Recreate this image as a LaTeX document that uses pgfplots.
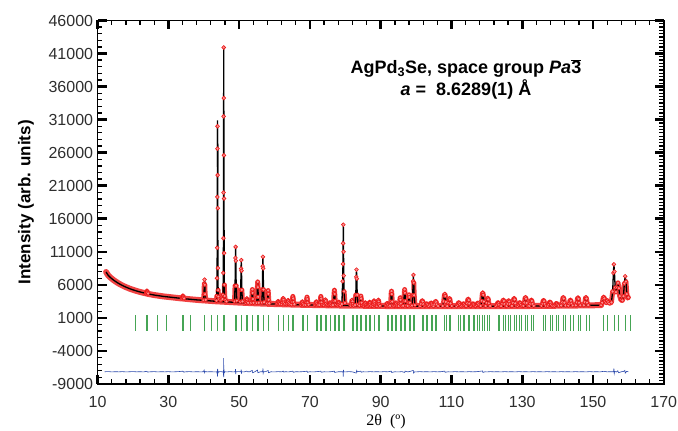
\documentclass[border=0pt]{standalone}
\usepackage{pgfplots}
\pgfplotsset{compat=1.18}
\usepackage{pgfplotstable}
\usepackage{fontspec}
\setmainfont{Liberation Sans}
\newfontfamily\serifA{Liberation Serif}
\definecolor{obsred}{RGB}{238,20,20}
\definecolor{tickgreen}{RGB}{70,165,85}
\definecolor{diffblue}{RGB}{40,70,170}

% background (observed band + calculated line)
\pgfplotstableread[row sep=\\]{x y\\
12.4 7950\\ 12.7 7680\\ 13.0 7440\\ 13.5 7170\\ 14.0 6940\\ 14.5 6730\\ 15.0 6540\\ 15.5 6360\\ 16.0 6200\\ 16.5 6050\\
17.0 5910\\ 17.5 5780\\ 18.0 5660\\ 18.5 5550\\ 19.0 5440\\ 19.5 5340\\ 20.0 5250\\ 20.5 5160\\ 21.0 5080\\ 21.5 5000\\
22.0 4930\\ 22.5 4860\\ 23.0 4790\\ 23.5 4730\\ 24.0 4670\\ 24.5 4610\\ 25.0 4560\\ 25.5 4510\\ 26.0 4460\\ 26.5 4420\\
27.0 4380\\ 27.5 4340\\ 28.0 4300\\ 28.5 4260\\ 29.0 4230\\ 29.5 4200\\ 30.0 4170\\ 30.5 4140\\ 31.0 4110\\ 31.5 4080\\
32.0 4050\\ 32.5 4020\\ 33.0 3990\\ 33.5 3960\\ 34.0 3940\\ 34.5 3910\\ 35.0 3880\\ 35.5 3855\\ 36.0 3830\\ 36.5 3805\\
37.0 3780\\ 37.5 3755\\ 38.0 3730\\ 38.5 3710\\ 39.0 3690\\ 39.5 3670\\ 40.0 3650\\ 40.5 3630\\ 41.0 3610\\ 41.5 3590\\
42.0 3570\\ 42.5 3550\\ 43.0 3530\\ 43.5 3515\\ 44.0 3500\\ 44.5 3485\\ 45.0 3470\\ 45.5 3455\\ 46.0 3440\\ 46.5 3425\\
47.0 3410\\ 47.5 3395\\ 48.0 3380\\ 48.5 3365\\ 49.0 3350\\ 49.5 3335\\ 50.0 3320\\ 50.5 3310\\ 51.0 3295\\ 51.5 3285\\
52.0 3270\\ 52.5 3260\\ 53.0 3245\\ 53.5 3235\\ 54.0 3220\\ 54.5 3210\\ 55.0 3200\\ 55.5 3190\\ 56.0 3180\\ 56.5 3170\\
57.0 3160\\ 57.5 3150\\ 58.0 3140\\ 58.5 3130\\ 59.0 3120\\ 59.5 3110\\ 60.0 3100\\ 60.5 3090\\ 61.0 3085\\ 61.5 3075\\
62.0 3070\\ 62.5 3060\\ 63.0 3050\\ 63.5 3045\\ 64.0 3035\\ 64.5 3030\\ 65.0 3020\\ 65.5 3015\\ 66.0 3010\\ 66.5 3000\\
67.0 2995\\ 67.5 2990\\ 68.0 2985\\ 68.5 2975\\ 69.0 2970\\ 69.5 2965\\ 70.0 2960\\ 70.5 2955\\ 71.0 2950\\ 71.5 2945\\
72.0 2940\\ 72.5 2935\\ 73.0 2930\\ 73.5 2925\\ 74.0 2920\\ 74.5 2915\\ 75.0 2910\\ 75.5 2905\\ 76.0 2900\\ 76.5 2895\\
77.0 2890\\ 77.5 2885\\ 78.0 2880\\ 78.5 2875\\ 79.0 2875\\ 79.5 2870\\ 80.0 2870\\ 80.5 2865\\ 81.0 2860\\ 81.5 2860\\
82.0 2855\\ 82.5 2850\\ 83.0 2850\\ 83.5 2845\\ 84.0 2845\\ 84.5 2840\\ 85.0 2840\\ 85.5 2835\\ 86.0 2830\\ 86.5 2830\\
87.0 2825\\ 87.5 2820\\ 88.0 2820\\ 88.5 2815\\ 89.0 2815\\ 89.5 2810\\ 90.0 2810\\ 90.5 2805\\ 91.0 2805\\ 91.5 2800\\
92.0 2800\\ 92.5 2800\\ 93.0 2795\\ 93.5 2795\\ 94.0 2795\\ 94.5 2790\\ 95.0 2790\\ 95.5 2790\\ 96.0 2785\\ 96.5 2785\\
97.0 2785\\ 97.5 2780\\ 98.0 2780\\ 98.5 2780\\ 99.0 2780\\ 99.5 2780\\ 100.0 2780\\ 100.5 2780\\ 101.0 2775\\ 101.5 2775\\
102.0 2775\\ 102.5 2775\\ 103.0 2775\\ 103.5 2770\\ 104.0 2770\\ 104.5 2770\\ 105.0 2770\\ 105.5 2770\\ 106.0 2770\\ 106.5 2770\\
107.0 2765\\ 107.5 2765\\ 108.0 2765\\ 108.5 2765\\ 109.0 2765\\ 109.5 2765\\ 110.0 2765\\ 110.5 2765\\ 111.0 2765\\ 111.5 2765\\
112.0 2765\\ 112.5 2765\\ 113.0 2765\\ 113.5 2765\\ 114.0 2765\\ 114.5 2765\\ 115.0 2765\\ 115.5 2765\\ 116.0 2765\\ 116.5 2765\\
117.0 2765\\ 117.5 2765\\ 118.0 2770\\ 118.5 2770\\ 119.0 2770\\ 119.5 2770\\ 120.0 2770\\ 120.5 2770\\ 121.0 2770\\ 121.5 2775\\
122.0 2775\\ 122.5 2775\\ 123.0 2775\\ 123.5 2775\\ 124.0 2780\\ 124.5 2780\\ 125.0 2780\\ 125.5 2780\\ 126.0 2780\\ 126.5 2785\\
127.0 2785\\ 127.5 2785\\ 128.0 2790\\ 128.5 2790\\ 129.0 2790\\ 129.5 2790\\ 130.0 2795\\ 130.5 2795\\ 131.0 2800\\ 131.5 2800\\
132.0 2800\\ 132.5 2805\\ 133.0 2805\\ 133.5 2810\\ 134.0 2810\\ 134.5 2815\\ 135.0 2815\\ 135.5 2820\\ 136.0 2820\\ 136.5 2825\\
137.0 2825\\ 137.5 2830\\ 138.0 2830\\ 138.5 2835\\ 139.0 2835\\ 139.5 2840\\ 140.0 2840\\ 140.5 2845\\ 141.0 2850\\ 141.5 2850\\
142.0 2855\\ 142.5 2860\\ 143.0 2860\\ 143.5 2865\\ 144.0 2865\\ 144.5 2870\\ 145.0 2870\\ 145.5 2875\\ 146.0 2880\\ 146.5 2885\\
147.0 2890\\ 147.5 2895\\ 148.0 2900\\ 148.5 2900\\ 149.0 2905\\ 149.5 2910\\ 150.0 2910\\ 150.5 2915\\ 151.0 2920\\ 151.5 2925\\
152.0 2930\\ 152.3 2935\\
}\bgtab

% Bragg peaks (observed points = calculated line), segments separated by nan
\pgfplotstableread[row sep=\\]{x y\\
23.63 4690\\ 23.78 4800\\ 23.87 5000\\ 23.93 5080\\ 24.00 4980\\ 24.09 4800\\ 24.26 4690\\ nan nan\\
33.80 3945\\ 33.95 4055\\ 34.04 4255\\ 34.10 4335\\ 34.17 4235\\ 34.26 4055\\ 34.43 3945\\ nan nan\\
39.92 3700\\ 40.07 4590\\ 40.16 6170\\ 40.22 6800\\ 40.29 6010\\ 40.38 4590\\ 40.55 3735\\ nan nan\\
43.60 3600\\ 43.70 4300\\ 43.75 7000\\ 43.80 11600\\ 43.84 19300\\ 43.87 26600\\ 43.90 30000\\ 43.93 22600\\ 43.96 17600\\ 44.00 8530\\ 44.06 5200\\ 44.15 4200\\ 44.30 3800\\ 44.70 3650\\ 45.00 3700\\ 45.30 3850\\ 45.45 4500\\ 45.52 7800\\ 45.56 13060\\ 45.59 19960\\ 45.61 31490\\ 45.64 41920\\ 45.67 34260\\ 45.70 25600\\ 45.73 19060\\ 45.76 10800\\ 45.82 6000\\ 45.90 4300\\ 46.10 3700\\ 46.40 3500\\ nan nan\\
48.70 3520\\ 48.85 5870\\ 48.94 10070\\ 49.00 11750\\ 49.07 9650\\ 49.16 5870\\ 49.33 3600\\ nan nan\\
50.30 3440\\ 50.45 5240\\ 50.54 8460\\ 50.60 9750\\ 50.67 8140\\ 50.76 5240\\ 50.93 3500\\ nan nan\\
51.88 3280\\ 52.03 3470\\ 52.12 3790\\ 52.18 3920\\ 52.25 3760\\ 52.34 3470\\ 52.51 3290\\ nan nan\\
53.43 3270\\ 53.58 3850\\ 53.67 4890\\ 53.73 5300\\ 53.80 4780\\ 53.89 3850\\ 54.06 3290\\ nan nan\\
54.94 3270\\ 55.09 4180\\ 55.18 5800\\ 55.24 6450\\ 55.31 5640\\ 55.40 4180\\ 55.57 3300\\ nan nan\\
56.42 3310\\ 56.57 5290\\ 56.66 8830\\ 56.72 10250\\ 56.79 8480\\ 56.88 5290\\ 57.05 3380\\ nan nan\\
57.89 3180\\ 58.04 3740\\ 58.13 4740\\ 58.19 5140\\ 58.26 4640\\ 58.35 3740\\ 58.52 3200\\ nan nan\\
60.64 3090\\ 60.84 3210\\ 60.96 3420\\ 61.04 3505\\ 61.13 3400\\ 61.25 3210\\ 61.48 3100\\ nan nan\\
62.04 3080\\ 62.24 3330\\ 62.36 3780\\ 62.44 3960\\ 62.53 3735\\ 62.65 3330\\ 62.88 3090\\ nan nan\\
63.42 3050\\ 63.62 3230\\ 63.74 3540\\ 63.82 3660\\ 63.91 3505\\ 64.03 3230\\ 64.26 3060\\ nan nan\\
64.78 3045\\ 64.98 3390\\ 65.10 4000\\ 65.18 4250\\ 65.27 3940\\ 65.39 3390\\ 65.62 3060\\ nan nan\\
67.46 2995\\ 67.66 3125\\ 67.78 3355\\ 67.86 3445\\ 67.95 3330\\ 68.07 3125\\ 68.30 3000\\ nan nan\\
68.78 2995\\ 68.98 3325\\ 69.10 3915\\ 69.18 4150\\ 69.27 3855\\ 69.39 3325\\ 69.62 3005\\ nan nan\\
71.40 2955\\ 71.60 3095\\ 71.72 3345\\ 71.80 3445\\ 71.89 3320\\ 72.01 3095\\ 72.24 2960\\ nan nan\\
72.69 2955\\ 72.89 3325\\ 73.01 3985\\ 73.09 4250\\ 73.18 3920\\ 73.30 3325\\ 73.53 2970\\ nan nan\\
73.98 2930\\ 74.18 3165\\ 74.30 3580\\ 74.38 3745\\ 74.47 3540\\ 74.59 3165\\ 74.82 2940\\ nan nan\\
75.25 2915\\ 75.45 3025\\ 75.57 3225\\ 75.65 3305\\ 75.74 3205\\ 75.86 3025\\ 76.09 2915\\ nan nan\\
76.52 2935\\ 76.72 3585\\ 76.84 4740\\ 76.92 5200\\ 77.01 4620\\ 77.13 3585\\ 77.36 2960\\ nan nan\\
77.78 2890\\ 77.98 3035\\ 78.10 3295\\ 78.18 3400\\ 78.27 3270\\ 78.39 3035\\ 78.62 2895\\ nan nan\\
79.04 3110\\ 79.24 6540\\ 79.34 9160\\ 79.38 12280\\ 79.44 15100\\ 79.50 11000\\ 79.56 7400\\ 79.65 5000\\ 79.88 3240\\ nan nan\\
81.53 2870\\ 81.73 3110\\ 81.85 3535\\ 81.93 3705\\ 82.02 3495\\ 82.14 3110\\ 82.37 2880\\ nan nan\\
82.76 2960\\ 82.96 4485\\ 83.08 7210\\ 83.16 8300\\ 83.25 6940\\ 83.37 4485\\ 83.60 3015\\ nan nan\\
84.00 2870\\ 84.20 3280\\ 84.32 4010\\ 84.40 4300\\ 84.49 3935\\ 84.61 3280\\ 84.84 2885\\ nan nan\\
85.24 2845\\ 85.44 2975\\ 85.56 3205\\ 85.64 3295\\ 85.73 3180\\ 85.85 2975\\ 86.08 2850\\ nan nan\\
86.48 2835\\ 86.68 2995\\ 86.80 3275\\ 86.88 3385\\ 86.97 3245\\ 87.09 2995\\ 87.32 2840\\ nan nan\\
87.72 2835\\ 87.92 3055\\ 88.04 3445\\ 88.12 3600\\ 88.21 3405\\ 88.33 3055\\ 88.56 2845\\ nan nan\\
88.95 2830\\ 89.15 3080\\ 89.27 3520\\ 89.35 3700\\ 89.44 3480\\ 89.56 3080\\ 89.79 2835\\ nan nan\\
91.41 2810\\ 91.61 2920\\ 91.73 3120\\ 91.81 3200\\ 91.90 3100\\ 92.02 2920\\ 92.25 2810\\ nan nan\\
92.65 2840\\ 92.85 3470\\ 92.97 4710\\ 93.05 5050\\ 93.14 4600\\ 93.26 3470\\ 93.49 2860\\ nan nan\\
93.89 2800\\ 94.09 2940\\ 94.21 3190\\ 94.29 3290\\ 94.38 3165\\ 94.50 2940\\ 94.73 2805\\ nan nan\\
95.12 2815\\ 95.32 3170\\ 95.44 3800\\ 95.52 4050\\ 95.61 3735\\ 95.73 3170\\ 95.96 2830\\ nan nan\\
96.37 2835\\ 96.57 3540\\ 96.69 4920\\ 96.77 5300\\ 96.86 4800\\ 96.98 3540\\ 97.21 2860\\ nan nan\\
97.62 2820\\ 97.82 3300\\ 97.94 4240\\ 98.02 4500\\ 98.11 4160\\ 98.23 3300\\ 98.46 2835\\ nan nan\\
98.85 2875\\ 99.05 4430\\ 99.17 6560\\ 99.25 7500\\ 99.34 6320\\ 99.46 4430\\ 99.69 2920\\ nan nan\\
101.15 2790\\ 101.45 3105\\ 101.63 3520\\ 101.75 3600\\ 101.89 3475\\ 102.07 3065\\ 102.41 2800\\ nan nan\\
102.71 2925\\ 102.89 3110\\ 103.01 3150\\ 103.15 3095\\ 103.33 2905\\ 103.67 2785\\ nan nan\\
103.98 2960\\ 104.16 3200\\ 104.28 3250\\ 104.42 3180\\ 104.60 2940\\ 104.94 2785\\ nan nan\\
105.25 3060\\ 105.43 3425\\ 105.55 3500\\ 105.69 3390\\ 105.87 3025\\ 106.21 2790\\ nan nan\\
107.52 2800\\ 107.82 3500\\ 108.00 4415\\ 108.12 4600\\ 108.26 4325\\ 108.44 3410\\ 108.78 2820\\ nan nan\\
108.82 2790\\ 109.12 3240\\ 109.30 3830\\ 109.42 3950\\ 109.56 3770\\ 109.74 3180\\ 110.08 2800\\ nan nan\\
111.46 2775\\ 111.76 2980\\ 111.94 3245\\ 112.06 3300\\ 112.20 3220\\ 112.38 2950\\ 112.72 2780\\ nan nan\\
112.79 2775\\ 113.09 2920\\ 113.27 3110\\ 113.39 3150\\ 113.53 3090\\ 113.71 2900\\ 114.05 2775\\ nan nan\\
114.13 2785\\ 114.43 3200\\ 114.61 3740\\ 114.73 3850\\ 114.87 3690\\ 115.05 3145\\ 115.39 2800\\ nan nan\\
115.47 2775\\ 115.77 2920\\ 115.95 3110\\ 116.07 3150\\ 116.21 3090\\ 116.39 2900\\ 116.73 2775\\ nan nan\\
116.85 2775\\ 117.15 2960\\ 117.33 3200\\ 117.45 3250\\ 117.59 3180\\ 117.77 2935\\ 118.11 2780\\ nan nan\\
118.24 2810\\ 118.54 3580\\ 118.72 4600\\ 118.84 4800\\ 118.98 4495\\ 119.16 3480\\ 119.50 2830\\ nan nan\\
119.65 2795\\ 119.95 3260\\ 120.13 3875\\ 120.25 4000\\ 120.39 3815\\ 120.57 3200\\ 120.91 2805\\ nan nan\\
122.56 2785\\ 122.86 2985\\ 123.04 3245\\ 123.16 3300\\ 123.30 3220\\ 123.48 2960\\ 123.82 2790\\ nan nan\\
124.06 2800\\ 124.36 3150\\ 124.54 3610\\ 124.66 3700\\ 124.80 3560\\ 124.98 3100\\ 125.32 2810\\ nan nan\\
125.57 2795\\ 125.87 3110\\ 126.05 3520\\ 126.17 3600\\ 126.31 3475\\ 126.49 3065\\ 126.83 2805\\ nan nan\\
127.11 2810\\ 127.41 3250\\ 127.59 3835\\ 127.71 3950\\ 127.85 3775\\ 128.03 3195\\ 128.37 2820\\ nan nan\\
128.70 2800\\ 129.00 2995\\ 129.18 3250\\ 129.30 3300\\ 129.44 3225\\ 129.62 2970\\ 129.96 2805\\ nan nan\\
130.32 2820\\ 130.62 3315\\ 130.80 3970\\ 130.92 4100\\ 131.06 3905\\ 131.24 3250\\ 131.58 2835\\ nan nan\\
131.99 2820\\ 132.29 3160\\ 132.47 3610\\ 132.59 3700\\ 132.73 3565\\ 132.91 3115\\ 133.25 2825\\ nan nan\\
135.43 2835\\ 135.73 3150\\ 135.91 3565\\ 136.03 3650\\ 136.17 3525\\ 136.35 3110\\ 136.69 2845\\ nan nan\\
137.22 2835\\ 137.52 3055\\ 137.70 3340\\ 137.82 3400\\ 137.96 3315\\ 138.14 3025\\ 138.48 2840\\ nan nan\\
139.07 2840\\ 139.37 2980\\ 139.55 3165\\ 139.67 3200\\ 139.81 3145\\ 139.99 2960\\ 140.33 2845\\ nan nan\\
141.00 2875\\ 141.30 3350\\ 141.48 3975\\ 141.60 4100\\ 141.74 3915\\ 141.92 3290\\ 142.26 2890\\ nan nan\\
143.02 2875\\ 143.32 3195\\ 143.50 3615\\ 143.62 3700\\ 143.76 3575\\ 143.94 3155\\ 144.28 2885\\ nan nan\\
145.14 2900\\ 145.44 3345\\ 145.62 3935\\ 145.74 4050\\ 145.88 3875\\ 146.06 3285\\ 146.40 2910\\ nan nan\\
147.40 2915\\ 147.70 3375\\ 147.88 3980\\ 148.00 4100\\ 148.14 3920\\ 148.32 3315\\ 148.66 2925\\ nan nan\\
152.30 2935\\ 152.60 3300\\ 152.85 3900\\ 153.01 4150\\ 153.20 3950\\ 153.45 3500\\ 153.70 3300\\ 153.90 3550\\ 154.05 3620\\ 154.30 3400\\ 154.60 3200\\ 155.20 3350\\ 155.55 5000\\ 155.75 7800\\ 155.90 9100\\ 156.05 8000\\ 156.25 5600\\ 156.50 4900\\ 156.80 5600\\ 157.06 6300\\ 157.30 5500\\ 157.55 4300\\ 157.90 3700\\ 158.30 3650\\ 158.60 4300\\ 158.85 6200\\ 159.09 7300\\ 159.30 6500\\ 159.55 4600\\ 159.80 4000\\ 160.00 4100\\
}\pktab

% Bragg reflection positions (Co Ka1 and Ka2)
\pgfplotstableread[row sep=\\]{x y\\
20.69 240\\ 20.74 240\\ 23.93 240\\ 23.98 240\\ 26.80 240\\ 26.86 240\\ 29.42 240\\ 29.49 240\\ 34.10 240\\ 34.18 240\\
36.24 240\\ 36.32 240\\ 40.22 240\\ 40.31 240\\ 42.09 240\\ 42.19 240\\ 43.89 240\\ 43.99 240\\ 45.64 240\\ 45.75 240\\
49.00 240\\ 49.11 240\\ 50.60 240\\ 50.72 240\\ 52.18 240\\ 52.30 240\\ 53.73 240\\ 53.86 240\\ 55.24 240\\ 55.37 240\\
56.72 240\\ 56.85 240\\ 58.19 240\\ 58.33 240\\ 61.04 240\\ 61.19 240\\ 62.44 240\\ 62.59 240\\ 63.82 240\\ 63.98 240\\
65.18 240\\ 65.34 240\\ 67.86 240\\ 68.03 240\\ 69.18 240\\ 69.35 240\\ 71.80 240\\ 71.98 240\\ 73.09 240\\ 73.27 240\\
74.38 240\\ 74.57 240\\ 75.65 240\\ 75.84 240\\ 76.92 240\\ 77.12 240\\ 78.18 240\\ 78.38 240\\ 79.44 240\\ 79.65 240\\
81.93 240\\ 82.15 240\\ 83.16 240\\ 83.38 240\\ 84.40 240\\ 84.63 240\\ 85.64 240\\ 85.87 240\\ 86.88 240\\ 87.12 240\\
88.12 240\\ 88.36 240\\ 89.35 240\\ 89.60 240\\ 91.81 240\\ 92.07 240\\ 93.05 240\\ 93.31 240\\ 94.29 240\\ 94.56 240\\
95.52 240\\ 95.79 240\\ 96.77 240\\ 97.05 240\\ 98.02 240\\ 98.31 240\\ 99.25 240\\ 99.54 240\\ 101.75 240\\ 102.06 240\\
103.01 240\\ 103.32 240\\ 104.28 240\\ 104.60 240\\ 105.55 240\\ 105.88 240\\ 108.12 240\\ 108.46 240\\ 109.42 240\\ 109.77 240\\
112.06 240\\ 112.43 240\\ 113.39 240\\ 113.77 240\\ 114.73 240\\ 115.12 240\\ 116.07 240\\ 116.47 240\\ 117.45 240\\ 117.86 240\\
118.84 240\\ 119.26 240\\ 120.25 240\\ 120.68 240\\ 123.16 240\\ 123.62 240\\ 124.66 240\\ 125.13 240\\ 126.17 240\\ 126.66 240\\
127.71 240\\ 128.22 240\\ 129.30 240\\ 129.83 240\\ 130.92 240\\ 131.47 240\\ 132.59 240\\ 133.16 240\\ 136.03 240\\ 136.65 240\\
137.82 240\\ 138.47 240\\ 139.67 240\\ 140.35 240\\ 141.60 240\\ 142.32 240\\ 143.62 240\\ 144.38 240\\ 145.74 240\\ 146.55 240\\
148.00 240\\ 148.87 240\\ 153.01 240\\ 154.05 240\\ 155.90 240\\ 157.06 240\\ 159.09 240\\ 160.44 240\\
}\reftab

% difference curve (obs - calc, offset)
\pgfplotstableread[row sep=\\]{x y\\
12 -7150\\ 13 -7120\\ 14 -7170\\ 15 -7140\\ 16 -7160\\ 17 -7130\\ 18 -7170\\ 19 -7150\\ 20 -7120\\ 21 -7160\\ 22 -7140\\ 23 -7170\\
23.9 -7080\\ 24.1 -7190\\ 25 -7150\\ 26 -7130\\ 27 -7170\\ 28 -7140\\ 29 -7160\\ 30 -7130\\ 31 -7170\\ 32 -7150\\ 33 -7120\\
34.1 -7060\\ 34.3 -7200\\ 35 -7150\\ 36 -7130\\ 37 -7170\\ 38 -7140\\ 39 -7160\\ 39.9 -7150\\ 40.1 -6900\\ 40.25 -7300\\ 40.4 -7120\\
41 -7160\\ 42 -7140\\ 43 -7170\\ 43.7 -7150\\ 43.8 -7500\\ 43.85 -6700\\ 43.9 -7900\\ 43.95 -6800\\ 44.05 -7300\\ 44.2 -7150\\
44.8 -7130\\ 45.5 -7170\\ 45.58 -7700\\ 45.62 -5070\\ 45.66 -7950\\ 45.72 -6800\\ 45.8 -7300\\ 45.95 -7150\\ 46.6 -7170\\ 47.3 -7130\\
48.2 -7160\\ 48.9 -7150\\ 48.97 -6750\\ 49.03 -7500\\ 49.1 -7150\\ 49.8 -7130\\ 50.5 -7150\\ 50.57 -6800\\ 50.63 -7450\\ 50.7 -7150\\
51.4 -7170\\ 52.18 -7050\\ 52.4 -7160\\ 53.0 -7140\\ 53.7 -6950\\ 53.8 -7300\\ 54.4 -7150\\ 55.2 -6900\\ 55.3 -7300\\ 56.0 -7150\\
56.65 -7150\\ 56.72 -6650\\ 56.8 -7350\\ 56.9 -7150\\ 57.5 -7130\\ 58.2 -6950\\ 58.3 -7300\\ 59 -7150\\ 60 -7170\\ 61 -7130\\
62 -7160\\ 62.44 -7050\\ 62.6 -7200\\ 63 -7140\\ 64 -7170\\ 65.2 -7050\\ 65.3 -7230\\ 66 -7140\\ 67 -7160\\ 68 -7130\\
69.2 -7060\\ 69.3 -7220\\ 70 -7150\\ 71 -7170\\ 72 -7130\\ 73.1 -7060\\ 73.2 -7220\\ 74 -7150\\ 75 -7170\\ 76 -7140\\
76.9 -7050\\ 77.0 -7250\\ 78 -7150\\ 79 -7140\\ 79.35 -7150\\ 79.42 -7900\\ 79.48 -6850\\ 79.55 -7150\\ 80 -7170\\ 81 -7130\\
82 -7160\\ 83.1 -7350\\ 83.2 -6950\\ 83.4 -7150\\ 84.4 -7050\\ 84.5 -7220\\ 85 -7150\\ 86 -7170\\ 87 -7130\\ 88 -7160\\
89 -7140\\ 90 -7170\\ 91 -7130\\ 92 -7160\\ 93.0 -7050\\ 93.1 -7250\\ 94 -7150\\ 95 -7170\\ 96 -7130\\ 96.8 -7250\\
96.9 -7050\\ 97.5 -7160\\ 98 -7140\\ 99.2 -6950\\ 99.3 -7350\\ 99.6 -7150\\ 100 -7170\\ 101 -7130\\ 102 -7160\\ 103 -7140\\
104 -7170\\ 105 -7130\\ 106 -7160\\ 107 -7140\\ 108.1 -7050\\ 108.2 -7230\\ 109 -7150\\ 110 -7170\\ 111 -7130\\ 112 -7160\\
113 -7140\\ 114 -7170\\ 115 -7130\\ 116 -7160\\ 117 -7140\\ 118.8 -7030\\ 118.9 -7250\\ 119.5 -7150\\ 120 -7170\\ 121 -7130\\
122 -7160\\ 123 -7140\\ 124 -7170\\ 125 -7130\\ 126 -7160\\ 127 -7140\\ 128 -7170\\ 129 -7130\\ 130 -7160\\ 131 -7140\\
132 -7170\\ 133 -7130\\ 134 -7160\\ 135 -7140\\ 136 -7170\\ 137 -7130\\ 138 -7160\\ 139 -7140\\ 140 -7170\\ 141 -7130\\
142 -7160\\ 143 -7140\\ 144 -7170\\ 145 -7130\\ 146 -7160\\ 147 -7140\\ 148 -7170\\ 149 -7130\\ 150 -7160\\ 151 -7140\\
152 -7170\\ 153 -7080\\ 154 -7160\\ 155 -7140\\ 155.8 -7150\\ 155.9 -6650\\ 156.0 -7400\\ 156.1 -7100\\ 156.6 -7180\\ 157.0 -7000\\
157.2 -7300\\ 158 -7150\\ 158.6 -7100\\ 159.0 -6950\\ 159.1 -7350\\ 159.5 -7100\\ 160 -7150\\
}\difftab

\begin{document}
\begin{tikzpicture}
\path[use as bounding box] (-97.6pt,-47pt) rectangle (580.4pt,384pt);
\begin{axis}[
  at={(0pt,0pt)}, anchor=south west, scale only axis,
  width=566.2pt, height=363.5pt,
  xmin=10, xmax=170, ymin=-9000, ymax=46000,
  xtick={10,30,...,170},
  ytick={-9000,-4000,...,46000},
  minor tick num=0,
  major tick length=0pt,
  scaled ticks=false,
  /pgf/number format/1000 sep={},
  /pgf/number format/assume math mode=true,
  tick label style={font=\fontsize{16}{19}\selectfont, text=black!82},
  xticklabel style={yshift=-9pt},
  yticklabel style={xshift=-1pt},
  axis line style={line width=1.6pt},
  clip=false,
  xlabel={\serifA 2θ\ \ (º)},
  xlabel style={font=\fontsize{16}{19}\selectfont, at={(axis description cs:0.5094,0)}, anchor=center, yshift=-38pt},
  ylabel={\bfseries Intensity (arb. units)},
  ylabel style={font=\fontsize{17}{20}\selectfont, at={(axis description cs:-0.1265,0.5)}, anchor=center},
  unbounded coords=jump,
]
% difference
\addplot[diffblue, line width=0.6pt] table[x=x,y=y] {\difftab};
% reflection ticks
\addplot[only marks, mark=|, mark size=7.85pt, mark options={draw=tickgreen, line width=0.8pt}] table[x=x,y=y] {\reftab};
% observed: band (thick red) and points
\addplot[obsred!80, line width=6pt, line join=round, line cap=round] table[x=x,y=y] {\bgtab};
\addplot[obsred!80, line width=5pt, line join=round, line cap=round, restrict y to domain=0:6500] table[x=x,y=y] {\pktab};
\addplot[only marks, mark=*, mark size=1.9pt, mark options={draw=obsred, fill=obsred!45, line width=0.6pt}] table[x=x,y=y] {\pktab};
% calculated
\addplot[black, line width=1.3pt, line join=round] table[x=x,y=y] {\bgtab};
\addplot[black, line width=1.3pt, line join=round] table[x=x,y=y] {\pktab};
\addplot[black, line width=1.3pt] coordinates {(43.87,26600) (43.895,30900) (43.93,22600)};
\node[align=center, font=\bfseries\fontsize{18}{22}\selectfont] at (axis cs:114.1,37070)
  {AgPd\textsubscript{3}Se, space group \textit{Pa}$\overline{\mbox{3}}$\\ \textit{a} =\ \ 8.6289(1) Å};
\end{axis}
% frame ticks (inward) as small filled bars on the 566.2pt x 363.5pt axis box
\foreach \i in {0,...,40}{
  \fill[black] ({\i*14.155pt-0.65pt},0pt) rectangle ++(1.3pt,4.6pt);
  \fill[black] ({\i*14.155pt-0.65pt},363.5pt) rectangle ++(1.3pt,-4.6pt);
}
\foreach \i in {0,...,8}{
  \fill[black] ({\i*70.775pt-1.3pt},0pt) rectangle ++(2.6pt,9pt);
  \fill[black] ({\i*70.775pt-1.3pt},363.5pt) rectangle ++(2.6pt,-9pt);
}
\foreach \i in {0,...,55}{
  \fill[black] (0pt,{\i*6.6091pt-0.65pt}) rectangle ++(4.6pt,1.3pt);
}
\foreach \i in {0,...,110}{
  \fill[black] (566.2pt,{\i*3.30455pt-0.65pt}) rectangle ++(-4.6pt,1.3pt);
}
\foreach \i in {0,...,11}{
  \fill[black] (0pt,{\i*33.0455pt-1.3pt}) rectangle ++(9pt,2.6pt);
  \fill[black] (566.2pt,{\i*33.0455pt-1.3pt}) rectangle ++(-9pt,2.6pt);
}
\end{tikzpicture}
\end{document}
